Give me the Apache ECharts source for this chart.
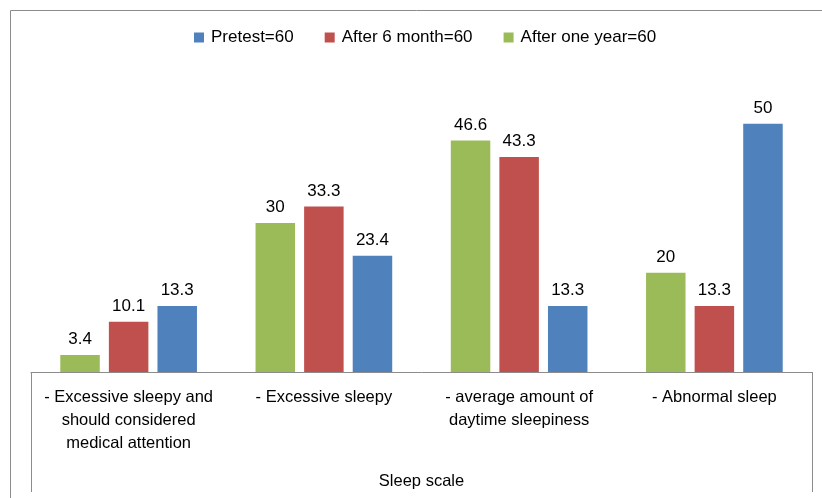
<!DOCTYPE html>
<html>
<head>
<meta charset="utf-8">
<script src="https://cdn.jsdelivr.net/npm/echarts@6/dist/echarts.min.js"></script>
<style>
  html, body { margin: 0; padding: 0; background: #fff; }
  #chart { width: 822px; height: 498px; }
</style>
</head>
<body>
<div id="chart"></div>
<script>
// data
var categories = [
  '- Excessive sleepy and\nshould considered\nmedical attention',
  '- Excessive sleepy',
  '- average amount of\ndaytime sleepiness',
  '- Abnormal sleep'
]
var afterOneYear = [3.4, 30, 46.6, 20]
var afterSixMonth = [10.1, 33.3, 43.3, 13.3]
var pretest = [13.3, 23.4, 13.3, 50]
var seriesNames = ['Pretest=60', 'After 6 month=60', 'After one year=60']
var axisTitle = 'Sleep scale'

var font = 'Liberation Sans'
var gridLeft = 31
var gridRight = 10
var gridTop = 74
var gridBottom = 126

var chart = echarts.init(document.getElementById('chart'))

function barSeries(name, data, color) {
  return {
    name: name,
    type: 'bar',
    data: data,
    barGap: '23%',
    barCategoryGap: '30%',
    itemStyle: { color: color },
    label: {
      show: true,
      position: 'top',
      distance: 7,
      color: '#000',
      fontFamily: font,
      fontSize: 17
    }
  }
}

var option = {
  backgroundColor: '#fff',
  animation: false,
  legend: {
    data: seriesNames,
    top: 24,
    left: 189,
    itemWidth: 10,
    itemHeight: 10,
    itemGap: 31,
    icon: 'rect',
    textStyle: { fontFamily: font, fontSize: 17, color: '#000', padding: [0, 0, 0, 2] }
  },
  grid: {
    left: gridLeft,
    right: gridRight,
    top: gridTop,
    bottom: gridBottom
  },
  xAxis: {
    type: 'category',
    data: categories,
    axisLine: { lineStyle: { color: '#8c8c8c', width: 1 } },
    axisTick: { show: false },
    axisLabel: {
      interval: 0,
      margin: 14,
      color: '#000',
      fontFamily: font,
      fontSize: 16.5,
      lineHeight: 23,
      align: 'center'
    },
    name: axisTitle,
    nameLocation: 'middle',
    nameGap: 101,
    nameTextStyle: { color: '#000', fontFamily: font, fontSize: 16.5 }
  },
  yAxis: {
    type: 'value',
    min: 0,
    max: 60,
    show: false,
    splitLine: { show: false }
  },
  series: [
    barSeries(seriesNames[2], afterOneYear, '#9BBB59'),
    barSeries(seriesNames[1], afterSixMonth, '#C0504D'),
    barSeries(seriesNames[0], pretest, '#4F81BD')
  ],
  graphic: [
    { // outer chart frame
      type: 'rect',
      shape: { x: 10.5, y: 10.5, width: 900, height: 600 },
      style: { fill: null, stroke: '#8c8c8c', lineWidth: 1 },
      silent: true
    },
    { // category box sides
      type: 'line',
      shape: { x1: gridLeft + 0.5, y1: 498 - gridBottom, x2: gridLeft + 0.5, y2: 492 },
      style: { stroke: '#8c8c8c', lineWidth: 1 }
    },
    {
      type: 'line',
      shape: { x1: 822 - gridRight + 0.5, y1: 498 - gridBottom, x2: 822 - gridRight + 0.5, y2: 492 },
      style: { stroke: '#8c8c8c', lineWidth: 1 }
    }
  ]
}

chart.setOption(option)
</script>
</body>
</html>
